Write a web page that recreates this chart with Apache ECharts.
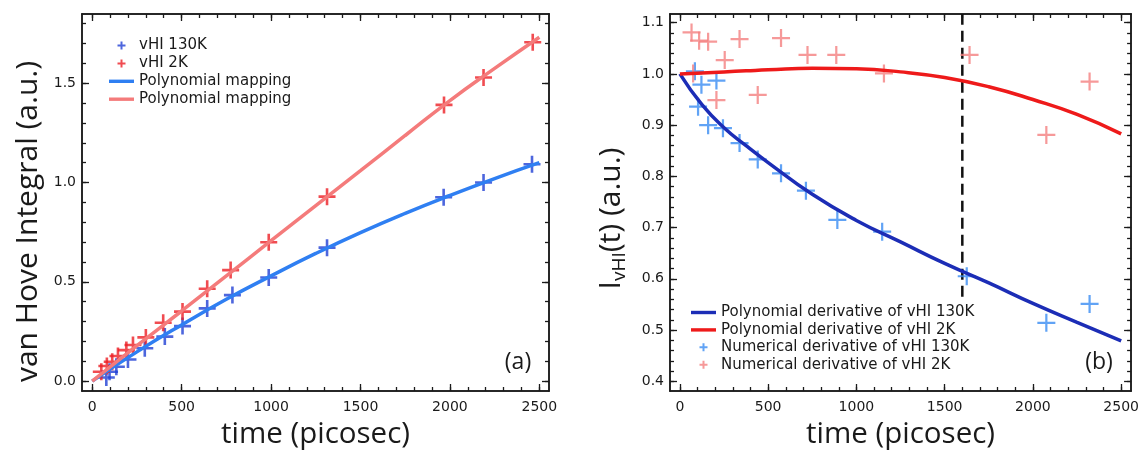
<!DOCTYPE html>
<html>
<head>
<meta charset="utf-8">
<script src="https://cdn.jsdelivr.net/npm/echarts@6/dist/echarts.min.js"></script>
<style>
  html, body { margin: 0; padding: 0; background: #ffffff; }
  #chart { width: 1142px; height: 456px; }
</style>
</head>
<body>
<div id="chart"></div>
<script>
// ---- Panel (a): van Hove integral versus time ----
const time130K = [79, 97, 135, 200, 294, 406, 505, 643, 784, 987, 1313, 1965, 2188, 2459];
const vhi130K  = [0.018, 0.047, 0.072, 0.109, 0.165, 0.224, 0.277, 0.366, 0.433, 0.522, 0.672, 0.926, 1.000, 1.092];
const time2K   = [51, 82, 112, 144, 191, 228, 300, 397, 505, 643, 774, 987, 1313, 1967, 2188, 2463];
const vhi2K    = [0.047, 0.076, 0.097, 0.126, 0.156, 0.182, 0.220, 0.294, 0.350, 0.465, 0.559, 0.699, 0.929, 1.391, 1.529, 1.707];
const fitTime  = [0, 250, 500, 750, 1000, 1250, 1500, 1750, 2000, 2250, 2500];
const fit130K  = [0, 0.147, 0.283, 0.412, 0.530, 0.643, 0.748, 0.845, 0.935, 1.020, 1.100];
const fit2K    = [0, 0.178, 0.353, 0.530, 0.707, 0.884, 1.060, 1.237, 1.413, 1.575, 1.732];

// ---- Panel (b): normalized time derivative ----
const derivTime130K = [85, 103, 122, 160, 207, 244, 338, 441, 573, 714, 892, 1146, 1625, 2076, 2321];
const deriv130K     = [1.005, 0.936, 0.979, 0.900, 0.987, 0.894, 0.865, 0.833, 0.806, 0.772, 0.715, 0.692, 0.605, 0.514, 0.551];
const derivTime2K   = [66, 75, 109, 160, 207, 254, 338, 441, 573, 723, 886, 1156, 1641, 2076, 2321];
const deriv2K       = [1.081, 1.001, 1.065, 1.063, 0.949, 1.027, 1.068, 0.959, 1.070, 1.037, 1.037, 1.001, 1.037, 0.881, 0.985];
const polyTime      = [0, 125, 250, 375, 500, 750, 1000, 1250, 1500, 1750, 2000, 2250, 2500];
const poly130K      = [1.000, 0.940, 0.895, 0.860, 0.827, 0.765, 0.714, 0.672, 0.630, 0.592, 0.552, 0.515, 0.479];
const poly2K        = [1.000, 1.002, 1.004, 1.006, 1.008, 1.011, 1.010, 1.004, 0.993, 0.975, 0.950, 0.921, 0.883];
const cutoffTime    = [1600, 1600];
const cutoffLevel   = [0.565, 1.117];

// ---- Axis ticks ----
const timeTicks   = [0, 500, 1000, 1500, 2000, 2500];
const vhiTicks    = [0, 0.5, 1.0, 1.5];
const derivTicks  = [0.4, 0.5, 0.6, 0.7, 0.8, 0.9, 1.0, 1.1];

function steps(start, stop, step) {
  const out = [];
  const n = Math.round((stop - start) / step);
  for (let i = 0; i <= n; i++) out.push(+(start + i * step).toFixed(4));
  return out;
}
const timeMinor  = steps(0, 2500, 100);
const vhiMinor   = steps(0, 1.8, 0.1);
const derivMinor = steps(0.4, 1.1, 0.02);

const zip = (xs, ys) => xs.map((x, i) => [x, ys[i]]);

const INK = '#1a1a1a';
const TICK_FONT = 'DejaVu Sans';
const TITLE_FONT = 'Open Sans';
const PLUS_A = 'path://M7.2,0H9.8V7.2H17V9.8H9.8V17H7.2V9.8H0V7.2H7.2Z';
const PLUS_B = 'path://M7.45,0H9.55V7.45H17V9.55H9.55V17H7.45V9.55H0V7.45H7.45Z';
const PLUS_LEGEND = 'path://M3,0H5V3H8V5H5V8H3V5H0V3H3Z';
const LINE_LEGEND = 'path://M0,0H25V3.4H0Z';

const xTitleStyle = { fontFamily: TITLE_FONT, fontSize: 29.5, color: INK };

// four stacked axes per side: labelled major ticks, minor ticks, and their mirrors
function makeAxes(dim, grid, min, max, major, minor, labelFmt, name, nameGap, nameStyle) {
  const mainPos = dim === 'x' ? 'bottom' : 'left';
  const mirrorPos = dim === 'x' ? 'top' : 'right';
  const base = {
    type: 'value', gridIndex: grid, min: min, max: max,
    splitLine: { show: false },
    axisLine: { show: true, onZero: false, lineStyle: { color: INK, width: 1.5 } },
    axisPointer: { show: false }
  };
  const tick = (len, vals) => ({ show: true, inside: true, length: len, customValues: vals, lineStyle: { color: INK, width: 1.3 } });
  return [
    Object.assign({}, base, {
      position: mainPos,
      axisTick: tick(7, major),
      axisLabel: {
        show: true, customValues: major, margin: dim === 'x' ? 9 : 6,
        fontFamily: TICK_FONT, fontSize: 14, color: INK, formatter: labelFmt
      },
      name: name, nameLocation: 'middle', nameGap: nameGap, nameRotate: dim === 'x' ? 0 : 90,
      nameTextStyle: nameStyle
    }),
    Object.assign({}, base, { position: mainPos, axisTick: tick(4, minor), axisLabel: { show: false } }),
    Object.assign({}, base, { position: mirrorPos, axisTick: tick(7, major), axisLabel: { show: false } }),
    Object.assign({}, base, { position: mirrorPos, axisTick: tick(4, minor), axisLabel: { show: false } })
  ];
}

const intFmt = v => String(Math.round(v));
const oneDp = v => v.toFixed(1);

const xAxis = [].concat(
  makeAxes('x', 0, -57, 2554, timeTicks, timeMinor, intFmt, 'time (picosec)', 29, xTitleStyle),
  makeAxes('x', 1, -56, 2556, timeTicks, timeMinor, intFmt, 'time (picosec)', 29, xTitleStyle)
);
const yAxis = [].concat(
  makeAxes('y', 0, -0.05, 1.849, vhiTicks, vhiMinor, oneDp, 'van Hove Integral (a.u.)', 39,
    { fontFamily: TITLE_FONT, fontSize: 30, color: INK, padding: [0, 38, 0, 0] }),
  makeAxes('y', 1, 0.381, 1.117, derivTicks, derivMinor, oneDp,
    '{m|I}{s|vHI}{m|(t) (a.u.)}', 41, {
      color: INK, padding: [0, 32, 0, 0],
      rich: {
        m: { fontFamily: TITLE_FONT, fontSize: 30, lineHeight: 36, color: INK },
        s: { fontFamily: TITLE_FONT, fontSize: 19, lineHeight: 19, color: INK, verticalAlign: 'bottom' }
      }
    })
);

const option = {
  animation: false,
  backgroundColor: '#ffffff',
  grid: [
    { left: 82, top: 14, width: 467, height: 377, show: false },
    { left: 670, top: 14, width: 463, height: 377, show: false }
  ],
  xAxis: xAxis,
  yAxis: yAxis,
  legend: [
    {
      orient: 'vertical', left: 109, top: 38, padding: 0, itemGap: 2.9,
      itemWidth: 25, itemHeight: 8, selectedMode: false,
      textStyle: { fontFamily: TICK_FONT, fontSize: 15, color: INK },
      data: [
        { name: 'vHI 130K', icon: PLUS_LEGEND },
        { name: 'vHI 2K', icon: PLUS_LEGEND },
        { name: 'Polynomial mapping', icon: LINE_LEGEND },
        { name: 'Polynomial mapping ', icon: LINE_LEGEND }
      ]
    },
    {
      orient: 'vertical', left: 691, top: 305, padding: 0, itemGap: 2.4,
      itemWidth: 25, itemHeight: 8, selectedMode: false,
      textStyle: { fontFamily: TICK_FONT, fontSize: 15, color: INK },
      data: [
        { name: 'Polynomial derivative of vHI 130K', icon: LINE_LEGEND },
        { name: 'Polynomial derivative of vHI 2K', icon: LINE_LEGEND },
        { name: 'Numerical derivative of vHI 130K', icon: PLUS_LEGEND },
        { name: 'Numerical derivative of vHI 2K', icon: PLUS_LEGEND }
      ]
    }
  ],
  graphic: [
    { type: 'text', x: 518, y: 362, style: { text: '(a)', fontFamily: TITLE_FONT, fontSize: 23, fill: INK, align: 'center', verticalAlign: 'middle' } },
    { type: 'text', x: 1099, y: 362, style: { text: '(b)', fontFamily: TITLE_FONT, fontSize: 23, fill: INK, align: 'center', verticalAlign: 'middle' } }
  ],
  series: [
    // panel (a)
    {
      name: 'Polynomial mapping', type: 'line', xAxisIndex: 0, yAxisIndex: 0,
      data: zip(fitTime, fit130K), smooth: true, showSymbol: false, symbol: 'none',
      lineStyle: { color: '#2f7ff2', width: 3.5 }, itemStyle: { color: '#2f7ff2' }
    },
    {
      name: 'Polynomial mapping ', type: 'line', xAxisIndex: 0, yAxisIndex: 0,
      data: zip(fitTime, fit2K), smooth: true, showSymbol: false, symbol: 'none',
      lineStyle: { color: '#f47b7b', width: 3.5 }, itemStyle: { color: '#f47b7b' }
    },
    {
      name: 'vHI 130K', type: 'scatter', xAxisIndex: 0, yAxisIndex: 0,
      data: zip(time130K, vhi130K), symbol: PLUS_A, symbolSize: 17,
      itemStyle: { color: '#2140d4' }
    },
    {
      name: 'vHI 2K', type: 'scatter', xAxisIndex: 0, yAxisIndex: 0,
      data: zip(time2K, vhi2K), symbol: PLUS_A, symbolSize: 17,
      itemStyle: { color: '#ec1f26' }
    },
    // panel (b)
    {
      name: 'Polynomial derivative of vHI 130K', type: 'line', xAxisIndex: 4, yAxisIndex: 4,
      data: zip(polyTime, poly130K), smooth: true, showSymbol: false, symbol: 'none',
      lineStyle: { color: '#1c2db6', width: 3.5 }, itemStyle: { color: '#1c2db6' }
    },
    {
      name: 'Polynomial derivative of vHI 2K', type: 'line', xAxisIndex: 4, yAxisIndex: 4,
      data: zip(polyTime, poly2K), smooth: true, showSymbol: false, symbol: 'none',
      lineStyle: { color: '#ee1a1a', width: 3.5 }, itemStyle: { color: '#ee1a1a' }
    },
    {
      name: 'Numerical derivative of vHI 130K', type: 'scatter', xAxisIndex: 4, yAxisIndex: 4,
      data: zip(derivTime130K, deriv130K), symbol: PLUS_B, symbolSize: 18,
      itemStyle: { color: '#3a8cf2' }
    },
    {
      name: 'Numerical derivative of vHI 2K', type: 'scatter', xAxisIndex: 4, yAxisIndex: 4,
      data: zip(derivTime2K, deriv2K), symbol: PLUS_B, symbolSize: 18,
      itemStyle: { color: '#f47f7f' }
    },
    {
      name: 'cutoff', type: 'line', xAxisIndex: 4, yAxisIndex: 4,
      data: zip(cutoffTime, cutoffLevel), showSymbol: false, symbol: 'none',
      lineStyle: { color: '#111111', width: 2.5, type: [11, 6] }, z: 1
    }
  ]
};

const chart = echarts.init(document.getElementById('chart'), null, { renderer: 'canvas' });
chart.setOption(option);
</script>
</body>
</html>
